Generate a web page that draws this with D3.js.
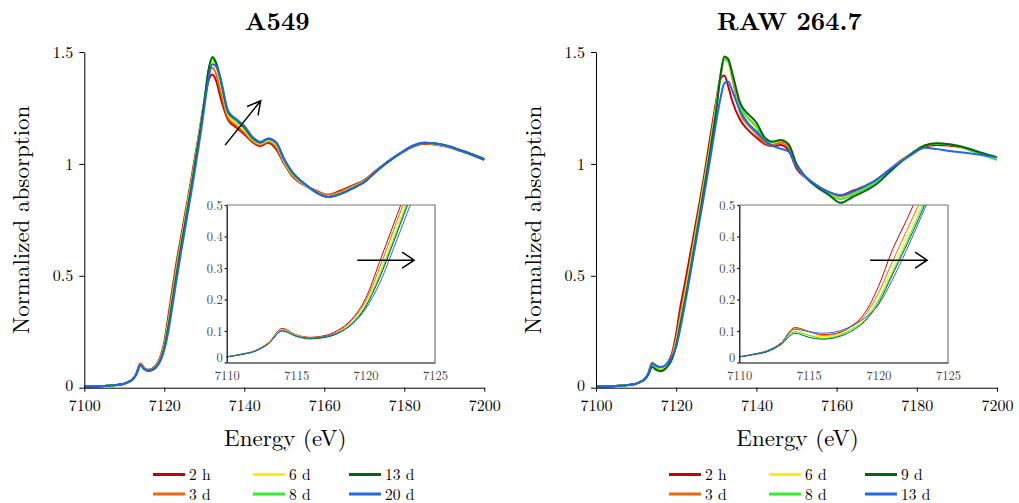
<!DOCTYPE html>
<html>
<head>
<meta charset="utf-8">
<script src="https://cdnjs.cloudflare.com/ajax/libs/d3/7.8.5/d3.min.js"></script>
<style>
  body { margin: 0; background: #fff; }
  svg { display: block; }
</style>
</head>
<body>
<div id="chart"></div>
<script>
// energy grid (eV) shared by every spectrum
var energy = [7100, 7105, 7108, 7110, 7111, 7112, 7113, 7114, 7115, 7116, 7117, 7118, 7119, 7120,
  7121, 7122, 7123, 7124, 7125, 7126, 7127, 7128, 7129, 7130, 7131, 7132, 7133, 7134, 7136, 7138,
  7140, 7142, 7144, 7146, 7148, 7150, 7152, 7155, 7158, 7161, 7164, 7167, 7170, 7173, 7176, 7179,
  7182, 7185, 7188, 7191, 7194, 7197, 7200]

var colors = ['#cc0000', '#ee6611', '#ffee00', '#33ee33', '#006611', '#2266ee']

// A549
var a549Labels = ['2 h', '3 d', '6 d', '8 d', '13 d', '20 d']
var a549_2h = [0.005, 0.008, 0.012, 0.018, 0.026, 0.037, 0.063, 0.108, 0.088, 0.080, 0.085, 0.102, 0.137, 0.203, 0.318, 0.437, 0.553, 0.655, 0.755, 0.855, 0.958, 1.065, 1.170, 1.280, 1.370, 1.400, 1.370, 1.300, 1.195, 1.163, 1.132, 1.098, 1.080, 1.094, 1.065, 1.000, 0.945, 0.905, 0.880, 0.862, 0.880, 0.903, 0.928, 0.972, 1.012, 1.045, 1.075, 1.090, 1.085, 1.075, 1.058, 1.040, 1.018]
var a549_3d = [0.005, 0.008, 0.012, 0.018, 0.026, 0.036, 0.062, 0.106, 0.087, 0.079, 0.083, 0.099, 0.133, 0.195, 0.300, 0.418, 0.535, 0.640, 0.742, 0.842, 0.945, 1.052, 1.165, 1.280, 1.390, 1.430, 1.400, 1.330, 1.205, 1.172, 1.140, 1.103, 1.085, 1.100, 1.075, 1.005, 0.950, 0.906, 0.878, 0.860, 0.876, 0.900, 0.925, 0.970, 1.010, 1.045, 1.077, 1.092, 1.087, 1.076, 1.060, 1.042, 1.020]
var a549_6d = [0.005, 0.008, 0.012, 0.018, 0.025, 0.036, 0.061, 0.104, 0.086, 0.078, 0.081, 0.096, 0.127, 0.185, 0.285, 0.400, 0.515, 0.625, 0.730, 0.832, 0.935, 1.045, 1.160, 1.280, 1.400, 1.460, 1.430, 1.365, 1.218, 1.185, 1.152, 1.110, 1.090, 1.106, 1.085, 1.010, 0.955, 0.908, 0.875, 0.855, 0.870, 0.895, 0.922, 0.968, 1.010, 1.046, 1.078, 1.093, 1.088, 1.077, 1.060, 1.042, 1.020]
var a549_8d = [0.005, 0.008, 0.012, 0.018, 0.025, 0.035, 0.060, 0.102, 0.085, 0.077, 0.080, 0.094, 0.124, 0.180, 0.275, 0.388, 0.505, 0.615, 0.720, 0.822, 0.928, 1.040, 1.155, 1.280, 1.410, 1.470, 1.440, 1.375, 1.225, 1.192, 1.158, 1.114, 1.093, 1.110, 1.090, 1.015, 0.960, 0.910, 0.873, 0.853, 0.867, 0.892, 0.920, 0.967, 1.010, 1.047, 1.079, 1.094, 1.090, 1.078, 1.061, 1.042, 1.020]
var a549_13d = [0.005, 0.008, 0.012, 0.018, 0.025, 0.035, 0.059, 0.100, 0.083, 0.075, 0.079, 0.092, 0.122, 0.176, 0.268, 0.380, 0.497, 0.607, 0.712, 0.815, 0.920, 1.035, 1.150, 1.278, 1.415, 1.478, 1.450, 1.385, 1.230, 1.198, 1.164, 1.118, 1.096, 1.114, 1.095, 1.020, 0.962, 0.912, 0.872, 0.852, 0.865, 0.890, 0.918, 0.966, 1.010, 1.048, 1.080, 1.095, 1.091, 1.080, 1.062, 1.043, 1.021]
var a549_20d = [0.005, 0.008, 0.012, 0.018, 0.025, 0.036, 0.060, 0.101, 0.084, 0.078, 0.082, 0.094, 0.120, 0.170, 0.250, 0.360, 0.475, 0.585, 0.690, 0.795, 0.900, 1.010, 1.125, 1.250, 1.375, 1.445, 1.435, 1.385, 1.235, 1.200, 1.170, 1.122, 1.098, 1.112, 1.095, 1.020, 0.965, 0.912, 0.874, 0.852, 0.866, 0.892, 0.920, 0.968, 1.012, 1.048, 1.080, 1.094, 1.090, 1.078, 1.060, 1.040, 1.018]

// RAW 264.7
var rawLabels = ['2 h', '3 d', '6 d', '8 d', '9 d', '13 d']
var raw_2h = [0.005, 0.008, 0.012, 0.018, 0.026, 0.037, 0.062, 0.111, 0.098, 0.088, 0.093, 0.114, 0.156, 0.241, 0.357, 0.450, 0.548, 0.645, 0.745, 0.845, 0.950, 1.065, 1.175, 1.285, 1.378, 1.395, 1.345, 1.280, 1.195, 1.150, 1.118, 1.090, 1.080, 1.085, 1.062, 0.980, 0.942, 0.902, 0.875, 0.860, 0.880, 0.900, 0.930, 0.970, 1.015, 1.048, 1.078, 1.085, 1.082, 1.075, 1.058, 1.042, 1.025]
var raw_3d = [0.005, 0.008, 0.012, 0.018, 0.026, 0.037, 0.062, 0.110, 0.099, 0.086, 0.091, 0.112, 0.148, 0.220, 0.320, 0.416, 0.512, 0.612, 0.715, 0.820, 0.925, 1.035, 1.150, 1.270, 1.390, 1.470, 1.455, 1.380, 1.226, 1.173, 1.135, 1.095, 1.085, 1.095, 1.075, 0.990, 0.945, 0.900, 0.872, 0.855, 0.872, 0.897, 0.928, 0.972, 1.013, 1.050, 1.082, 1.090, 1.088, 1.078, 1.060, 1.040, 1.022]
var raw_6d = [0.005, 0.008, 0.012, 0.018, 0.025, 0.036, 0.060, 0.104, 0.088, 0.082, 0.086, 0.106, 0.138, 0.204, 0.299, 0.397, 0.494, 0.598, 0.702, 0.808, 0.915, 1.025, 1.140, 1.262, 1.385, 1.465, 1.455, 1.395, 1.255, 1.200, 1.160, 1.108, 1.095, 1.108, 1.088, 0.995, 0.945, 0.898, 0.868, 0.845, 0.865, 0.890, 0.922, 0.968, 1.012, 1.050, 1.082, 1.090, 1.088, 1.078, 1.060, 1.040, 1.022]
var raw_8d = [0.005, 0.008, 0.012, 0.018, 0.025, 0.035, 0.059, 0.098, 0.086, 0.077, 0.083, 0.104, 0.133, 0.197, 0.285, 0.380, 0.478, 0.582, 0.688, 0.795, 0.905, 1.015, 1.130, 1.255, 1.385, 1.468, 1.458, 1.398, 1.258, 1.205, 1.168, 1.110, 1.096, 1.108, 1.088, 0.997, 0.946, 0.898, 0.866, 0.843, 0.862, 0.888, 0.920, 0.966, 1.010, 1.050, 1.082, 1.090, 1.087, 1.076, 1.057, 1.036, 1.018]
var raw_9d = [0.005, 0.008, 0.012, 0.018, 0.025, 0.034, 0.057, 0.093, 0.080, 0.074, 0.080, 0.098, 0.130, 0.188, 0.278, 0.370, 0.467, 0.570, 0.675, 0.782, 0.890, 1.000, 1.115, 1.240, 1.390, 1.480, 1.468, 1.405, 1.270, 1.222, 1.185, 1.120, 1.100, 1.106, 1.088, 1.000, 0.948, 0.898, 0.862, 0.826, 0.852, 0.878, 0.910, 0.960, 1.008, 1.050, 1.082, 1.092, 1.088, 1.078, 1.062, 1.045, 1.030]
var raw_13d = [0.005, 0.008, 0.012, 0.018, 0.026, 0.037, 0.061, 0.106, 0.098, 0.093, 0.098, 0.114, 0.141, 0.183, 0.262, 0.355, 0.455, 0.558, 0.660, 0.762, 0.865, 0.970, 1.080, 1.190, 1.290, 1.360, 1.368, 1.325, 1.235, 1.180, 1.145, 1.105, 1.082, 1.068, 1.056, 0.990, 0.948, 0.905, 0.875, 0.860, 0.876, 0.900, 0.930, 0.972, 1.010, 1.045, 1.072, 1.066, 1.058, 1.052, 1.045, 1.038, 1.030]

// tick values
var xTicks = [7100, 7120, 7140, 7160, 7180, 7200]
var yTicks = [0, 0.5, 1, 1.5]
var insetXTicks = [7110, 7115, 7120, 7125]
var insetYTicks = [0, 0.1, 0.2, 0.3, 0.4, 0.5]

// arrow annotations [E0, y0, E1, y1]
var mainArrow = [7135.2, 1.084, 7144.1, 1.282]
var insetArrow = [7119.4, 0.325, 7123.5, 0.325]

// pick the first serif face the browser actually has
function pickFont (names) {
  var ctx = document.createElement('canvas').getContext('2d')
  var probe = 'Normalized absorption 7100 (eV)'
  ctx.font = '40px monospace'
  var base = ctx.measureText(probe).width
  for (var k = 0; k < names.length; k++) {
    ctx.font = '40px "' + names[k] + '", monospace'
    if (Math.abs(ctx.measureText(probe).width - base) > 0.5) return '"' + names[k] + '", serif'
  }
  return 'serif'
}
var FONT = pickFont(['Latin Modern Roman', 'CMU Serif', 'Liberation Serif', 'DejaVu Serif', 'Noto Serif',
  'Times New Roman', 'Tinos', 'FreeSerif', 'Nimbus Roman', 'Nimbus Roman No9 L', 'Georgia'])

var panels = [
  { title: 'A549', labels: a549Labels, series: [a549_2h, a549_3d, a549_6d, a549_8d, a549_13d, a549_20d],
    x0: 84.3, x1: 484.3, ix0: 226.7, ix1: 435, legendX: [153, 253, 349], arrow: true },
  { title: 'RAW 264.7', labels: rawLabels, series: [raw_2h, raw_3d, raw_6d, raw_8d, raw_9d, raw_13d],
    x0: 596, x1: 997, ix0: 739.3, ix1: 948, legendX: [669, 769, 865], arrow: false }
]

var W = 1019
var H = 503
var yTop = 52
var yBottom = 387.7
var iTop = 205
var iBottom = 362.5

var svg = d3.select('#chart').append('svg')
  .attr('width', W)
  .attr('height', H)
  .style('font-family', FONT)

var defs = svg.append('defs')

function arrowPath (x0, y0, x1, y1, len, half) {
  var a = Math.atan2(y1 - y0, x1 - x0)
  var bx = x1 - len * Math.cos(a)
  var by = y1 - len * Math.sin(a)
  var px = -Math.sin(a) * half
  var py = Math.cos(a) * half
  return 'M' + x0 + ',' + y0 + 'L' + x1 + ',' + y1 +
    'M' + (bx + px) + ',' + (by + py) + 'L' + x1 + ',' + y1 + 'L' + (bx - px) + ',' + (by - py)
}

panels.forEach(function (p, pi) {
  var g = svg.append('g')
  var cx = (p.x0 + p.x1) / 2

  var x = d3.scaleLinear().domain([7100, 7200]).range([p.x0, p.x1])
  var y = d3.scaleLinear().domain([0, 1.5]).range([yBottom, yTop])

  // title
  g.append('text')
    .attr('x', cx - 7)
    .attr('y', 30)
    .attr('text-anchor', 'middle')
    .style('font-family', FONT)
    .attr('font-size', 25)
    .attr('font-weight', 'bold')
    .text(p.title)

  // main curves
  var line = d3.line()
    .x(function (d, i) { return x(energy[i]) })
    .y(function (d) { return y(d) })
    .curve(d3.curveMonotoneX)

  p.series.forEach(function (s, si) {
    g.append('path')
      .attr('d', line(s))
      .attr('fill', 'none')
      .attr('stroke', colors[si])
      .attr('stroke-width', 2)
  })

  // axes
  var xAxis = g.append('g')
    .attr('transform', 'translate(0,' + yBottom + ')')
    .call(d3.axisBottom(x).tickValues(xTicks).tickSize(4).tickSizeOuter(0).tickPadding(8)
      .tickFormat(function (d) { return String(d) }))
  var yAxis = g.append('g')
    .attr('transform', 'translate(' + p.x0 + ',0)')
    .call(d3.axisLeft(y).tickValues(yTicks).tickSize(5).tickSizeOuter(0).tickPadding(6)
      .tickFormat(function (d) { return String(d) }))
  ;[xAxis, yAxis].forEach(function (a) {
    a.attr('font-family', null).attr('font-size', 16)
    a.selectAll('text').style('font-family', FONT).attr('fill', '#000')
    a.selectAll('line, path').attr('stroke', '#000')
  })
  yAxis.selectAll('text').filter(function (d) { return d === 0 }).attr('dy', '0.15em')

  // axis labels
  g.append('text')
    .attr('x', cx + 1)
    .attr('y', 446)
    .attr('text-anchor', 'middle')
    .style('font-family', FONT)
    .attr('font-size', 23)
    .text('Energy (eV)')
  g.append('text')
    .attr('transform', 'translate(' + (p.x0 - 55) + ',' + ((yTop + yBottom) / 2) + ') rotate(-90)')
    .attr('text-anchor', 'middle')
    .style('font-family', FONT)
    .attr('font-size', 23)
    .text('Normalized absorption')

  if (p.arrow) {
    g.append('path')
      .attr('d', arrowPath(x(mainArrow[0]), y(mainArrow[1]), x(mainArrow[2]), y(mainArrow[3]), 13, 7))
      .attr('fill', 'none')
      .attr('stroke', '#000')
      .attr('stroke-width', 1.5)
  }

  // inset
  var ix = d3.scaleLinear().domain([7110, 7125]).range([p.ix0, p.ix1])
  var iy = d3.scaleLinear().domain([0, 0.5]).range([iBottom, iTop])

  var clipId = 'clip' + pi
  defs.append('clipPath').attr('id', clipId)
    .append('rect')
    .attr('x', p.ix0).attr('y', iTop)
    .attr('width', p.ix1 - p.ix0).attr('height', iBottom - iTop)

  var ig = g.append('g')
  ig.append('rect')
    .attr('x', p.ix0).attr('y', iTop)
    .attr('width', p.ix1 - p.ix0).attr('height', iBottom - iTop)
    .attr('fill', '#fff')

  var iline = d3.line()
    .x(function (d, i) { return ix(energy[i]) })
    .y(function (d) { return iy(d) })
    .curve(d3.curveMonotoneX)

  var curves = ig.append('g').attr('clip-path', 'url(#' + clipId + ')')
  p.series.forEach(function (s, si) {
    curves.append('path')
      .attr('d', iline(s))
      .attr('fill', 'none')
      .attr('stroke', colors[si])
      .attr('stroke-width', 1)
  })

  // grey frame on top and right
  ig.append('path')
    .attr('d', 'M' + p.ix0 + ',' + iTop + 'H' + p.ix1 + 'V' + iBottom)
    .attr('fill', 'none')
    .attr('stroke', '#777')
    .attr('stroke-width', 1.2)

  var ixAxis = ig.append('g')
    .attr('transform', 'translate(0,' + iBottom + ')')
    .call(d3.axisBottom(ix).tickValues(insetXTicks).tickSize(0).tickSizeOuter(0).tickPadding(9)
      .tickFormat(function (d) { return String(d) }))
  var iyAxis = ig.append('g')
    .attr('transform', 'translate(' + p.ix0 + ',0)')
    .call(d3.axisLeft(iy).tickValues(insetYTicks).tickSize(2).tickSizeOuter(0).tickPadding(2)
      .tickFormat(function (d) { return String(d) }))
  ;[ixAxis, iyAxis].forEach(function (a) {
    a.attr('font-family', null).attr('font-size', 12.5)
    a.selectAll('text').style('font-family', FONT).attr('fill', '#444')
    a.selectAll('line, path').attr('stroke', '#000').attr('stroke-width', 1.2)
  })
  // lift the "0" label a little so it clears the x labels
  iyAxis.selectAll('text').filter(function (d) { return d === 0 }).attr('dy', '-0.05em')

  ig.append('path')
    .attr('d', arrowPath(ix(insetArrow[0]), iy(insetArrow[1]), ix(insetArrow[2]), iy(insetArrow[3]), 12, 8))
    .attr('fill', 'none')
    .attr('stroke', '#000')
    .attr('stroke-width', 1.5)

  // legend: two rows, three columns
  var lg = g.append('g')
  p.labels.forEach(function (lab, i) {
    var col = Math.floor(i / 2)
    var row = i % 2
    var lx = p.legendX[col]
    var ly = 474.5 + row * 19.5
    lg.append('line')
      .attr('x1', lx).attr('x2', lx + 32)
      .attr('y1', ly).attr('y2', ly)
      .attr('stroke', colors[i])
      .attr('stroke-width', 3)
    lg.append('text')
      .attr('x', lx + 36)
      .attr('y', ly + 5.5)
      .style('font-family', FONT)
      .attr('font-size', 15.5)
      .text(lab)
  })
})
</script>
</body>
</html>
